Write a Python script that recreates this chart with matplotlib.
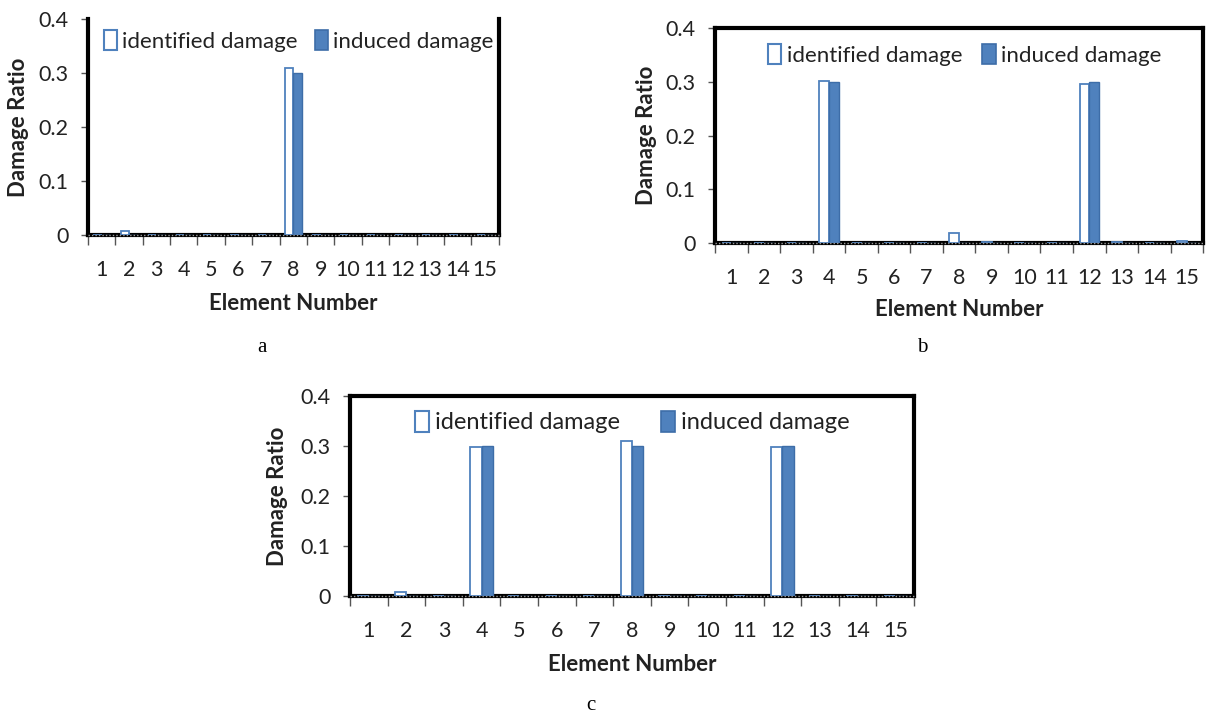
import matplotlib
matplotlib.use("Agg")
import matplotlib.pyplot as plt
from matplotlib.patches import Patch
import numpy as np

elements = list(range(1, 16))
tick_labels = [str(e) for e in elements]
y_ticks = [0, 0.1, 0.2, 0.3, 0.4]
y_tick_labels = ["0", "0.1", "0.2", "0.3", "0.4"]

identified_a = [0, 0.008, 0, 0, 0, 0, 0, 0.31, 0, 0, 0, 0, 0, 0, 0]
induced_a    = [0, 0, 0, 0, 0, 0, 0, 0.30, 0, 0, 0, 0, 0, 0, 0]

identified_b = [0, 0, 0, 0.302, 0, 0, 0, 0.018, 0.002, 0, 0, 0.295, 0.002, 0, 0.004]
induced_b    = [0, 0, 0, 0.30, 0, 0, 0, 0, 0, 0, 0, 0.30, 0, 0, 0]

identified_c = [0, 0.008, 0, 0.298, 0, 0, 0, 0.31, 0, 0, 0, 0.299, 0, 0, 0]
induced_c    = [0, 0, 0, 0.30, 0, 0, 0, 0.30, 0, 0, 0, 0.30, 0, 0, 0]

series_names = ["identified damage", "induced damage"]
panel_letters = ["a", "b", "c"]

BLUE = "#4F81BD"
EDGE = "#3D6DA8"
plt.rcParams['font.family'] = ['Lato', 'DejaVu Sans']

fig = plt.figure(figsize=(12.08, 7.19), dpi=100)

def panel(rect, ident, induced, legend_x, legend_y, colspace, ylab_x, xlab_y,
          legend_fs=16, top_spine=True):
    ax = fig.add_axes(rect)
    x = np.array(elements)
    w = 0.3
    ax.bar(x - w / 2, ident, w, facecolor="white", edgecolor=BLUE, linewidth=1.3, zorder=3)
    ax.bar(x + w / 2, induced, w, facecolor=BLUE, edgecolor=EDGE, linewidth=1.0, zorder=3)
    ax.set_xlim(0.5, 15.5)
    ax.set_ylim(0, 0.4)
    ax.set_xticks(x)
    ax.set_xticklabels(tick_labels, fontsize=15.5, color="#222222")
    ax.set_xticks(np.arange(0.5, 16, 1), minor=True)
    ax.tick_params(axis="x", which="major", length=0, pad=18)
    ax.tick_params(axis="x", which="minor", length=7, width=1, color="#555555", direction="out")
    ax.set_yticks(y_ticks)
    ax.set_yticklabels(y_tick_labels, fontsize=15.5, color="#222222")
    ax.tick_params(axis="y", length=5, width=1, color="#555555", pad=9)
    for s in ["left", "right", "bottom", "top"]:
        ax.spines[s].set_linewidth(3)
        ax.spines[s].set_color("black")
    ax.spines["top"].set_visible(top_spine)
    ax.axhline(0, color="#9a9a9a", lw=1, ls=(0, (1, 1.5)), zorder=4, clip_on=False)
    ax.set_ylabel("Damage Ratio", fontsize=16, fontweight="bold", color="#222222")
    ax.set_xlabel("Element Number", fontsize=16, fontweight="bold", color="#222222")
    ax.yaxis.set_label_coords(ylab_x, 0.5)
    ax.xaxis.set_label_coords(0.5, xlab_y)
    handles = [Patch(facecolor="white", edgecolor=BLUE, linewidth=1.5),
               Patch(facecolor=BLUE, edgecolor=EDGE, linewidth=1.2)]
    ax.legend(handles, series_names, loc="center left", bbox_to_anchor=(legend_x, legend_y),
              ncol=2, frameon=False, fontsize=legend_fs, handlelength=0.6, handleheight=1.0,
              handletextpad=0.25, columnspacing=colspace, borderaxespad=0, borderpad=0,
              labelcolor="#222222")
    return ax

ax_a = panel([0.0728, 0.673, 0.340, 0.3004], identified_a, induced_a, 0.038, 0.90, 0.75,
             -0.144, -0.268, top_spine=False)
ax_b = panel([0.592, 0.662, 0.404, 0.299], identified_b, induced_b, 0.108, 0.874, 0.9,
             -0.119, -0.260)
ax_c = panel([0.2897, 0.171, 0.467, 0.278], identified_c, induced_c, 0.115, 0.87, 1.75,
             -0.110, -0.29, legend_fs=17)

fig.text(262 / 1208, 1 - 347 / 719, panel_letters[0], fontsize=15, family="Liberation Serif", ha="center", va="center")
fig.text(922 / 1208, 1 - 348 / 719, panel_letters[1], fontsize=15, family="Liberation Serif", ha="center", va="center")
fig.text(591 / 1208, 1 - 706 / 719, panel_letters[2], fontsize=15, family="Liberation Serif", ha="center", va="center")

fig.savefig("out.png", dpi=100)
